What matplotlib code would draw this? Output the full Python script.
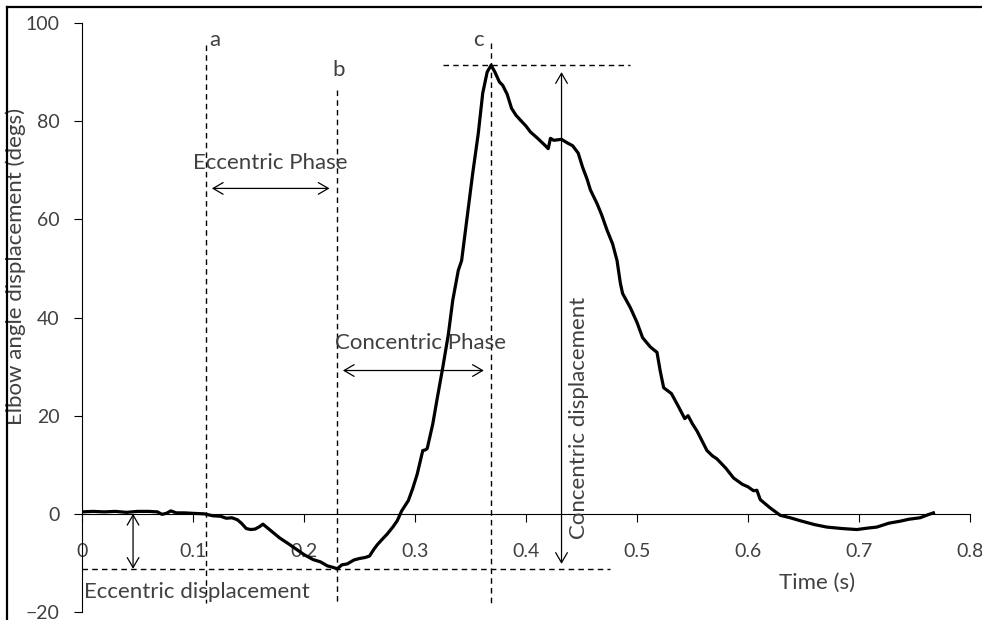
import numpy as np
import matplotlib
matplotlib.use("Agg")
import matplotlib.pyplot as plt
from matplotlib.lines import Line2D

# ---------- data ----------
time = [0.000, 0.010, 0.020, 0.030, 0.040, 0.050, 0.060, 0.068, 0.072, 0.076,
        0.080, 0.085, 0.092, 0.100, 0.110, 0.118, 0.125, 0.130, 0.135, 0.140,
        0.144, 0.148, 0.152, 0.156, 0.160, 0.163, 0.170, 0.178, 0.186, 0.193,
        0.200, 0.208, 0.215, 0.221, 0.226, 0.230, 0.234, 0.239, 0.245, 0.250,
        0.255, 0.259, 0.263, 0.266, 0.270, 0.275, 0.280, 0.284, 0.288, 0.294,
        0.298, 0.302, 0.307, 0.309, 0.311, 0.316, 0.320, 0.325, 0.330, 0.334,
        0.339, 0.342, 0.347, 0.352, 0.357, 0.361, 0.365, 0.3685, 0.372, 0.376,
        0.379, 0.383, 0.387, 0.391, 0.395, 0.400, 0.404, 0.410, 0.417, 0.420,
        0.422, 0.425, 0.432, 0.437, 0.442, 0.447, 0.451, 0.455, 0.458, 0.464,
        0.468, 0.473, 0.478, 0.482, 0.485, 0.487, 0.494, 0.500, 0.505, 0.512,
        0.518, 0.521, 0.524, 0.531, 0.537, 0.543, 0.546, 0.550, 0.554, 0.563,
        0.568, 0.572, 0.580, 0.587, 0.595, 0.600, 0.605, 0.608, 0.611, 0.620,
        0.629, 0.638, 0.647, 0.660, 0.671, 0.685, 0.698, 0.708, 0.716, 0.727,
        0.737, 0.745, 0.755, 0.762, 0.767]
angle = [0.4, 0.5, 0.4, 0.5, 0.3, 0.5, 0.5, 0.4, -0.1, 0.1,
         0.6, 0.2, 0.2, 0.1, 0.0, -0.4, -0.5, -0.9, -0.8, -1.2,
         -2.0, -3.0, -3.2, -3.1, -2.6, -2.1, -3.4, -4.9, -6.1, -7.2,
         -8.3, -9.3, -9.8, -10.6, -10.9, -11.2, -10.4, -10.2, -9.4, -9.1,
         -8.9, -8.6, -7.2, -6.3, -5.3, -4.1, -2.7, -1.4, 0.6, 2.7,
         5.2, 8.1, 12.9, 13.0, 13.3, 18.3, 23.5, 29.8, 36.5, 43.5,
         49.6, 51.6, 60.5, 69.4, 77.5, 85.7, 90.0, 91.4, 90.0, 88.0,
         87.3, 85.5, 82.6, 81.2, 80.2, 79.0, 77.8, 76.6, 75.1, 74.4,
         76.5, 76.1, 76.3, 75.6, 75.0, 73.5, 70.6, 68.2, 66.0, 63.2,
         61.0, 57.8, 55.0, 51.6, 47.0, 44.9, 42.0, 39.0, 35.9, 34.0,
         32.9, 29.0, 25.7, 24.5, 22.0, 19.4, 20.0, 18.3, 16.9, 12.9,
         11.8, 11.2, 9.3, 7.3, 6.0, 5.5, 4.7, 4.8, 2.9, 1.2,
         -0.3, -0.8, -1.4, -2.2, -2.7, -3.0, -3.2, -2.9, -2.7, -1.9,
         -1.5, -1.1, -0.8, -0.2, 0.2]

x_ticks = [0, 0.1, 0.2, 0.3, 0.4, 0.5, 0.6, 0.7, 0.8]
x_tick_labels = ["0", "0.1", "0.2", "0.3", "0.4", "0.5", "0.6", "0.7", "0.8"]
y_ticks = [-20, 0, 20, 40, 60, 80, 100]

t_a = 0.112           # start of eccentric phase
i_min = int(np.argmin(angle))
i_max = int(np.argmax(angle))
t_b, ang_min = time[i_min], angle[i_min]
t_c, ang_max = time[i_max], angle[i_max]

TXT = "#404040"
plt.rcParams['font.family'] = ['Lato', 'DejaVu Sans']

fig = plt.figure(figsize=(9.82, 6.2), dpi=100)
ax = fig.add_axes([0.0835, 0.0129, 0.9043, 0.9500])

ax.plot(time, angle, color="black", lw=2.3, zorder=5)

ax.set_xlim(0, 0.8)
ax.set_ylim(-20, 100)
ax.spines['top'].set_visible(False)
ax.spines['right'].set_visible(False)
ax.spines['bottom'].set_position(('data', 0))
for s in ('left', 'bottom'):
    ax.spines[s].set_linewidth(0.8)
ax.set_xticks(x_ticks)
ax.set_xticklabels(x_tick_labels)
ax.set_yticks(y_ticks)
ax.tick_params(axis='x', direction='out', length=6, width=0.8, pad=15,
               labelsize=14, labelcolor=TXT)
ax.tick_params(axis='y', direction='out', length=6, width=0.8, pad=10,
               labelsize=14, labelcolor=TXT)

ax.set_ylabel("Elbow angle displacement (degs)", fontsize=16, color=TXT)
ax.yaxis.set_label_coords(-0.063, 0.586)
ax.set_xlabel("Time (s)", fontsize=16, color=TXT)
ax.xaxis.set_label_coords(0.828, 0.066)

dash = dict(color="black", lw=1.0, ls=(0, (4, 3)), zorder=3)
# event lines a, b, c
ax.plot([t_a, t_a], [95.5, -18.1], **dash)
ax.plot([t_b, t_b], [86.4, -18.1], **dash)
ax.plot([t_c, t_c], [95.9, -18.1], **dash)
# peak and minimum reference lines
ax.plot([0.325, 0.494], [ang_max, ang_max], **dash)
ax.plot([0.0, 0.476], [ang_min, ang_min], **dash)

ax.text(t_a + 0.003, 96.5, "a", fontsize=16, color=TXT, ha='left', va='center')
ax.text(t_b + 0.001, 90.4, "b", fontsize=16, color=TXT, ha='center', va='center')
ax.text(t_c - 0.011, 96.5, "c", fontsize=16, color=TXT, ha='center', va='center')

arr = dict(arrowstyle='<->,head_length=0.6,head_width=0.35', color="black",
           lw=0.9, shrinkA=0, shrinkB=0, mutation_scale=12)
ax.annotate("", xy=(0.117, 66.3), xytext=(0.223, 66.3), arrowprops=arr)
ax.annotate("", xy=(0.235, 29.2), xytext=(0.362, 29.2), arrowprops=arr)
ax.annotate("", xy=(0.046, 0), xytext=(0.046, ang_min), arrowprops=arr)
ax.annotate("", xy=(0.432, 90.0), xytext=(0.432, -10.2), arrowprops=arr)

ax.text(0.100, 71.5, "Eccentric Phase", fontsize=16, color=TXT, ha='left', va='center')
ax.text(0.228, 34.8, "Concentric Phase", fontsize=16, color=TXT, ha='left', va='center')
ax.text(0.002, -15.9, "Eccentric displacement", fontsize=16, color=TXT,
        ha='left', va='center')
ax.text(0.4477, 19.6, "Concentric displacement", fontsize=16, color=TXT,
        rotation=90, ha='center', va='center')

# picture frame (top and left edges)
fig.add_artist(Line2D([7 / 982, 1], [1 - 7 / 620, 1 - 7 / 620], color="black", lw=1.6,
                      transform=fig.transFigure))
fig.add_artist(Line2D([7 / 982, 7 / 982], [0, 1 - 7 / 620], color="black", lw=1.6,
                      transform=fig.transFigure))

fig.savefig("out.png", dpi=100)
